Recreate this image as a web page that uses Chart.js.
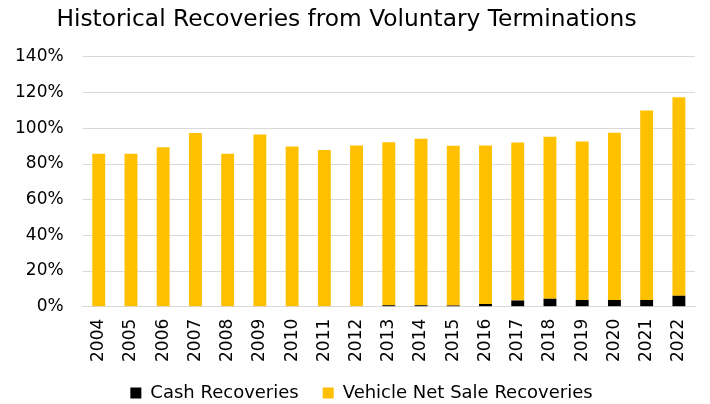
<!DOCTYPE html>
<html>
<head>
<meta charset="utf-8">
<script src="https://cdn.jsdelivr.net/npm/chart.js@4/dist/chart.umd.min.js"></script>
<style>
  html, body { margin: 0; padding: 0; background: #fff; }
  #wrap { width: 710px; height: 404px; }
</style>
</head>
<body>
<div id="wrap"><canvas id="chart" width="710" height="404"></canvas></div>
<script>
// ===== DATA =====
const years = ["2004","2005","2006","2007","2008","2009","2010","2011","2012","2013",
               "2014","2015","2016","2017","2018","2019","2020","2021","2022"];
// cash recoveries (bottom of stack)
const cashRecoveries = [0, 0, 0, 0, 0, 0, 0, 0, 0, 0.8,
                        0.8, 0.7, 1.5, 3.5, 4.5, 3.8, 3.8, 3.8, 6.2];
// vehicle net sale recoveries (stacked on top of cash)
const vehicleRecoveries = [85.8, 85.8, 89.4, 97.4, 85.8, 96.5, 89.8, 87.8, 90.4, 91.4,
                           93.4, 89.5, 88.9, 88.6, 90.8, 88.8, 93.7, 106.2, 111.2];
const yTicks = [0, 20, 40, 60, 80, 100, 120, 140];

const FONT = '"DejaVu Sans", Verdana, sans-serif';

// legend: keep wide gaps between items but less space above them,
// and nudge legend / title to sit like the original
const boxTweak = {
  id: "boxTweak",
  beforeLayout(chart) {
    const lg = chart.legend;
    if (lg && !lg._tweaked) {
      const fit = lg.fit;
      lg.fit = function () { fit.call(this); this.height -= 12; };
      lg._tweaked = true;
    }
  },
  afterLayout(chart) {
    if (chart.legend) {
      chart.legend.left += 32;
      chart.legend.top -= 6;
    }
    if (chart.titleBlock) chart.titleBlock.left += 2;
  }
};

new Chart(document.getElementById("chart"), {
  type: "bar",
  data: {
    labels: years,
    datasets: [
      { label: "Cash Recoveries", data: cashRecoveries, backgroundColor: "#000000" },
      { label: "Vehicle Net Sale Recoveries", data: vehicleRecoveries, backgroundColor: "#FFC000" }
    ]
  },
  options: {
    responsive: false,
    animation: false,
    layout: { padding: { left: -4, right: 15, top: 4, bottom: -2 } },
    datasets: { bar: { categoryPercentage: 1.0, barPercentage: 0.40 } },
    plugins: {
      title: {
        display: true,
        text: "Historical Recoveries from Voluntary Terminations",
        color: "#000",
        font: { family: FONT, size: 23.3, weight: "normal" },
        padding: { top: 2, bottom: 23 }
      },
      legend: {
        position: "bottom",
        labels: {
          color: "#000",
          font: { family: FONT, size: 18 },
          boxWidth: 11,
          boxHeight: 11,
          padding: 24
        }
      },
      tooltip: { enabled: false }
    },
    scales: {
      x: {
        stacked: true,
        grid: { display: false },
        border: { color: "#d9d9d9", width: 1 },
        ticks: {
          color: "#000",
          font: { family: FONT, size: 17 },
          minRotation: 90,
          maxRotation: 90,
          padding: 4
        }
      },
      y: {
        stacked: true,
        min: 0,
        max: 140,
        afterBuildTicks: axis => { axis.ticks = yTicks.map(v => ({ value: v })); },
        grid: { color: "#d9d9d9", drawTicks: false },
        border: { display: false },
        ticks: {
          color: "#000",
          font: { family: FONT, size: 17 },
          padding: 19,
          callback: v => v + "%"
        }
      }
    }
  },
  plugins: [boxTweak]
});
</script>
</body>
</html>
